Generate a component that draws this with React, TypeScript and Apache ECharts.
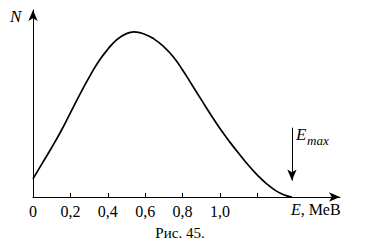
import React, { useEffect, useRef } from "react";
import * as echarts from "echarts";

const energies = [0, 0.05, 0.1, 0.15, 0.2, 0.25, 0.3, 0.35, 0.4, 0.45, 0.5, 0.54, 0.6, 0.65, 0.7, 0.75, 0.8, 0.85, 0.9, 0.95, 1.0, 1.05, 1.1, 1.15, 1.2, 1.25, 1.3, 1.35, 1.385];
const counts = [0.11, 0.205, 0.3, 0.4, 0.51, 0.62, 0.725, 0.82, 0.895, 0.955, 0.99, 1.0, 0.985, 0.955, 0.91, 0.85, 0.77, 0.68, 0.59, 0.5, 0.415, 0.337, 0.265, 0.195, 0.133, 0.08, 0.037, 0.01, 0];
const tickValues = [0.2, 0.4, 0.6, 0.8, 1.0, 1.2];
const labelValues = [0, 0.2, 0.4, 0.6, 0.8, 1.0];
const EMAX = 1.385;
const emaxArrow = [0.42, 0.1];

const SERIF = "Times New Roman";

export default function App() {
  const ref = useRef<HTMLDivElement>(null);
  useEffect(() => {
    if (!ref.current) return;
    const chart = echarts.init(ref.current, null, { renderer: "svg" });
    chart.setOption({
      animation: false,
      backgroundColor: "#fff",
      grid: { left: 33, right: 28, top: 10, bottom: 51 },
      xAxis: {
        type: "value",
        min: 0,
        max: 1.642,
        splitLine: { show: false },
        axisLine: {
          onZero: false,
          lineStyle: { color: "#000", width: 1 },
          symbol: ["none", "arrow"],
          symbolSize: [7, 11],
        },
        axisTick: {
          show: true,
          inside: true,
          length: 4,
          lineStyle: { color: "#000" },
          customValues: tickValues,
        },
        axisLabel: {
          customValues: labelValues,
          color: "#000",
          fontFamily: SERIF,
          fontSize: 16,
          margin: 6,
          formatter: (v: number) => (v === 0 ? "0" : v.toFixed(1).replace(".", ",")),
        },
      },
      yAxis: {
        type: "value",
        min: 0,
        max: 1.133,
        splitLine: { show: false },
        axisTick: { show: false },
        axisLabel: { show: false },
        axisLine: {
          show: true,
          onZero: false,
          lineStyle: { color: "#000", width: 1 },
          symbol: ["none", "arrow"],
          symbolSize: [7, 11],
        },
      },
      series: [
        {
          type: "line",
          data: energies.map((e, i) => [e, counts[i]]),
          smooth: 0.5,
          showSymbol: false,
          lineStyle: { color: "#000", width: 1.7 },
          silent: true,
          markLine: {
            silent: true,
            symbol: ["none", "arrow"],
            symbolSize: [7, 11],
            label: { show: false },
            lineStyle: { color: "#000", width: 1, type: "solid" },
            data: [[{ coord: [EMAX, emaxArrow[0]] }, { coord: [EMAX, emaxArrow[1]] }]],
          },
        },
      ],
      graphic: [
        {
          type: "text",
          left: 10,
          top: 8,
          style: { text: "N", fontFamily: SERIF, fontStyle: "italic", fontSize: 17, fill: "#000" },
        },
        {
          type: "text",
          x: 296,
          y: 126,
          style: { text: "E", fontFamily: SERIF, fontStyle: "italic", fontSize: 17, fill: "#000" },
        },
        {
          type: "text",
          x: 307,
          y: 134,
          style: { text: "max", fontFamily: SERIF, fontStyle: "italic", fontSize: 13, fill: "#000" },
        },
        {
          type: "text",
          x: 291,
          y: 201,
          style: {
            text: "{i|E}{n|, МеВ}",
            fill: "#000",
            fontFamily: SERIF,
            fontSize: 16,
            rich: {
              i: { fontFamily: SERIF, fontStyle: "italic", fontSize: 16, fill: "#000" },
              n: { fontFamily: SERIF, fontSize: 16, fill: "#000" },
            },
          },
        },
        {
          type: "text",
          x: 180,
          y: 233,
          style: {
            text: "Рис. 45.",
            fontFamily: SERIF,
            fontSize: 15,
            fill: "#000",
            align: "center",
            verticalAlign: "middle",
          },
        },
      ],
    });
    return () => chart.dispose();
  }, []);
  return <div ref={ref} style={{ width: 368, height: 248, position: "absolute", left: 0, top: 0 }} />;
}
